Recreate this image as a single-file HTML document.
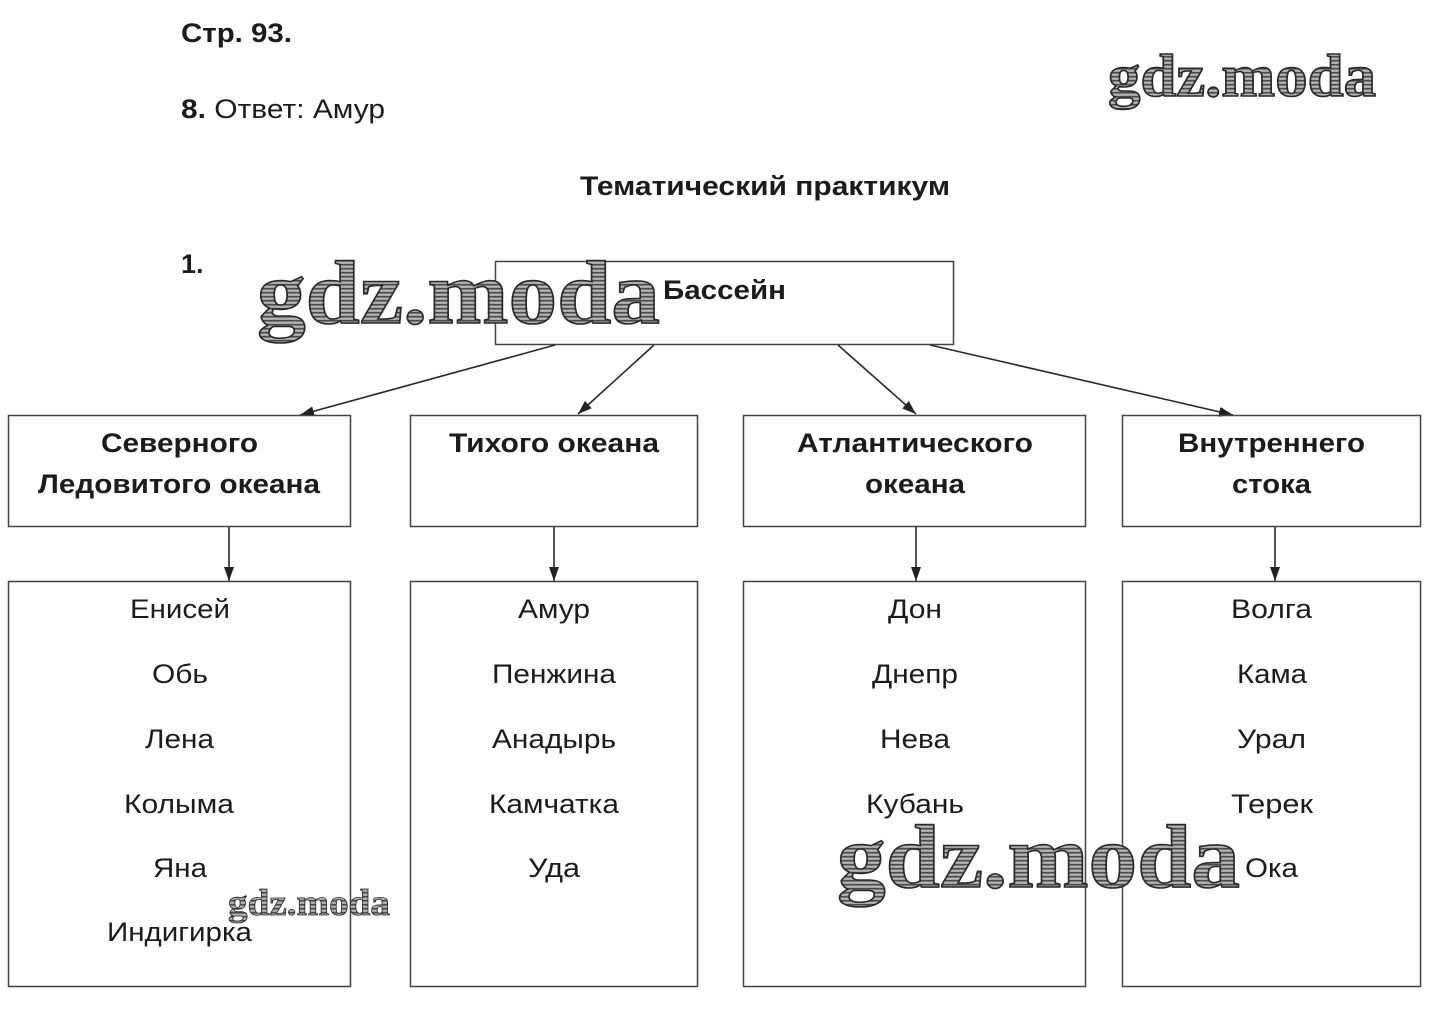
<!DOCTYPE html>
<html>
<head>
<meta charset="utf-8">
<style>
  html,body{margin:0;padding:0;background:#fff;}
  svg{display:block;}
  .b{font-family:"Liberation Sans",Arial,sans-serif;font-weight:bold;font-size:27px;fill:#1c1c1c;}
  .r{font-family:"Liberation Sans",Arial,sans-serif;font-size:27px;fill:#1c1c1c;}
  .wm{font-family:"Liberation Serif","DejaVu Serif",serif;font-weight:bold;fill:url(#hatch);stroke:#2a2a2a;stroke-width:1.6;}
</style>
</head>
<body>
<svg width="1433" height="1035" viewBox="0 0 1433 1035" xmlns="http://www.w3.org/2000/svg">
  <defs>
    <pattern id="hatch" width="6" height="4" patternUnits="userSpaceOnUse">
      <rect width="6" height="4" fill="#9a9a9a"/>
      <rect width="6" height="1.4" fill="#4a4a4a"/>
      <rect y="2.6" width="6" height="0.6" fill="#d8d8d8"/>
    </pattern>
    <marker id="ah" viewBox="0 0 14 10" refX="14" refY="5" markerWidth="14" markerHeight="10" markerUnits="userSpaceOnUse" orient="auto">
      <path d="M0,0 L14,5 L0,10 z" fill="#222"/>
    </marker>
  </defs>

  <!-- header texts -->
  <text class="b" x="181" y="42" textLength="111" lengthAdjust="spacingAndGlyphs">Стр. 93.</text>
  <text class="r" x="181" y="118" textLength="204" lengthAdjust="spacingAndGlyphs"><tspan class="b">8.</tspan> Ответ: Амур</text>
  <text class="b" x="580" y="195" textLength="370" lengthAdjust="spacingAndGlyphs">Тематический практикум</text>
  <text class="b" x="181" y="273">1.</text>

  <!-- top box -->
  <rect x="495.5" y="261.5" width="458" height="83" fill="none" stroke="#444" stroke-width="1.5"/>
  <text class="b" x="663" y="299" textLength="123" lengthAdjust="spacingAndGlyphs">Бассейн</text>

  <!-- arrows -->
  <g stroke="#2a2a2a" stroke-width="1.6" fill="none">
    <line x1="555" y1="345" x2="300" y2="415" marker-end="url(#ah)"/>
    <line x1="654" y1="345" x2="578" y2="414" marker-end="url(#ah)"/>
    <line x1="838" y1="345" x2="916" y2="414" marker-end="url(#ah)"/>
    <line x1="930" y1="345" x2="1233" y2="415" marker-end="url(#ah)"/>
    <line x1="229" y1="527" x2="229" y2="581" marker-end="url(#ah)"/>
    <line x1="554" y1="527" x2="554" y2="581" marker-end="url(#ah)"/>
    <line x1="916" y1="527" x2="916" y2="581" marker-end="url(#ah)"/>
    <line x1="1275" y1="527" x2="1275" y2="581" marker-end="url(#ah)"/>
  </g>

  <!-- boxes -->
  <g fill="none" stroke="#444" stroke-width="1.5">
    <rect x="8.5" y="415.5" width="342" height="111"/>
    <rect x="410.5" y="415.5" width="287" height="111"/>
    <rect x="743.5" y="415.5" width="342" height="111"/>
    <rect x="1122.5" y="415.5" width="298" height="111"/>
    <rect x="8.5" y="581.5" width="342" height="405"/>
    <rect x="410.5" y="581.5" width="287" height="405"/>
    <rect x="743.5" y="581.5" width="342" height="405"/>
    <rect x="1122.5" y="581.5" width="298" height="405"/>
  </g>

  <!-- level 2 headers -->
  <text class="b" x="101" y="452" textLength="157" lengthAdjust="spacingAndGlyphs">Северного</text>
  <text class="b" x="38" y="493" textLength="282" lengthAdjust="spacingAndGlyphs">Ледовитого океана</text>
  <text class="b" x="449" y="452" textLength="210" lengthAdjust="spacingAndGlyphs">Тихого океана</text>
  <text class="b" x="797" y="452" textLength="236" lengthAdjust="spacingAndGlyphs">Атлантического</text>
  <text class="b" x="865" y="493" textLength="100" lengthAdjust="spacingAndGlyphs">океана</text>
  <text class="b" x="1178" y="452" textLength="187" lengthAdjust="spacingAndGlyphs">Внутреннего</text>
  <text class="b" x="1232" y="493" textLength="79" lengthAdjust="spacingAndGlyphs">стока</text>

  <!-- rivers -->
  <g class="r">
    <text class="r" x="130" y="618" textLength="100" lengthAdjust="spacingAndGlyphs">Енисей</text>
    <text class="r" x="152" y="683" textLength="56" lengthAdjust="spacingAndGlyphs">Обь</text>
    <text class="r" x="145" y="748" textLength="69" lengthAdjust="spacingAndGlyphs">Лена</text>
    <text class="r" x="124" y="813" textLength="110" lengthAdjust="spacingAndGlyphs">Колыма</text>
    <text class="r" x="153" y="877" textLength="54" lengthAdjust="spacingAndGlyphs">Яна</text>
    <text class="r" x="107" y="941" textLength="145" lengthAdjust="spacingAndGlyphs">Индигирка</text>

    <text class="r" x="518" y="618" textLength="72" lengthAdjust="spacingAndGlyphs">Амур</text>
    <text class="r" x="492" y="683" textLength="124" lengthAdjust="spacingAndGlyphs">Пенжина</text>
    <text class="r" x="492" y="748" textLength="124" lengthAdjust="spacingAndGlyphs">Анадырь</text>
    <text class="r" x="489" y="813" textLength="130" lengthAdjust="spacingAndGlyphs">Камчатка</text>
    <text class="r" x="528" y="877" textLength="52" lengthAdjust="spacingAndGlyphs">Уда</text>

    <text class="r" x="888" y="618" textLength="54" lengthAdjust="spacingAndGlyphs">Дон</text>
    <text class="r" x="872" y="683" textLength="86" lengthAdjust="spacingAndGlyphs">Днепр</text>
    <text class="r" x="880" y="748" textLength="70" lengthAdjust="spacingAndGlyphs">Нева</text>
    <text class="r" x="866" y="813" textLength="98" lengthAdjust="spacingAndGlyphs">Кубань</text>

    <text class="r" x="1231" y="618" textLength="81" lengthAdjust="spacingAndGlyphs">Волга</text>
    <text class="r" x="1237" y="683" textLength="70" lengthAdjust="spacingAndGlyphs">Кама</text>
    <text class="r" x="1237" y="748" textLength="69" lengthAdjust="spacingAndGlyphs">Урал</text>
    <text class="r" x="1231" y="813" textLength="82" lengthAdjust="spacingAndGlyphs">Терек</text>
    <text class="r" x="1245" y="877" textLength="53" lengthAdjust="spacingAndGlyphs">Ока</text>
  </g>

  <!-- watermarks -->
  <text class="wm" x="1108" y="96" font-size="60" textLength="268" lengthAdjust="spacingAndGlyphs">gdz.moda</text>
  <text class="wm" x="257" y="323" font-size="90" textLength="403" lengthAdjust="spacingAndGlyphs">gdz.moda</text>
  <text class="wm" x="837" y="887" font-size="90" textLength="403" lengthAdjust="spacingAndGlyphs">gdz.moda</text>
  <text class="wm" x="228" y="915" font-size="37" textLength="162" lengthAdjust="spacingAndGlyphs" style="stroke-width:0.8">gdz.moda</text>
</svg>
</body>
</html>
